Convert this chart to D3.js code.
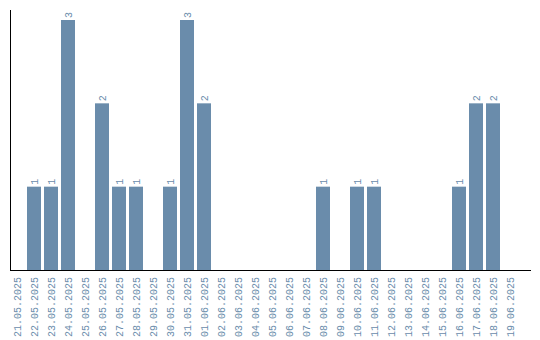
<!DOCTYPE html>
<html>
<head>
<meta charset="utf-8">
<script src="https://cdn.jsdelivr.net/npm/d3@7"></script>
<style>
  body { margin: 0; background: #fff; }
  text { font-family: "Liberation Mono", monospace; font-size: 10px; fill: #6a8cab; }
</style>
</head>
<body>
<svg id="chart" width="540" height="340"></svg>
<script>
// dates shown on the x axis
var days = ["21.05.2025","22.05.2025","23.05.2025","24.05.2025","25.05.2025","26.05.2025",
  "27.05.2025","28.05.2025","29.05.2025","30.05.2025","31.05.2025","01.06.2025",
  "02.06.2025","03.06.2025","04.06.2025","05.06.2025","06.06.2025","07.06.2025",
  "08.06.2025","09.06.2025","10.06.2025","11.06.2025","12.06.2025","13.06.2025",
  "14.06.2025","15.06.2025","16.06.2025","17.06.2025","18.06.2025","19.06.2025"];
// count per day
var counts = [0,1,1,3,0,2,1,1,0,1,3,2,0,0,0,0,0,0,1,0,1,1,0,0,0,0,1,2,2,0];

var data = days.map(function(d, i) { return {day: d, value: counts[i]}; });

var svg = d3.select("#chart");
var left = 10, baseline = 270;

var x = d3.scaleBand()
    .domain(days)
    .range([left, 517])
    .paddingInner(3 / 17)
    .paddingOuter(0);

var y = d3.scaleLinear()
    .domain([0, 3])
    .range([baseline, 20]);

// bars
svg.selectAll(".bar")
  .data(data.filter(function(d) { return d.value > 0; }))
  .enter().append("rect")
    .attr("class", "bar")
    .attr("x", function(d) { return x(d.day); })
    .attr("y", function(d) { return y(d.value); })
    .attr("width", x.bandwidth())
    .attr("height", function(d) { return baseline - y(d.value); })
    .attr("fill", "#6a8cab");

// value labels
svg.selectAll(".val")
  .data(data.filter(function(d) { return d.value > 0; }))
  .enter().append("text")
    .attr("class", "val")
    .attr("transform", function(d) {
      return "translate(" + (x(d.day) + x.bandwidth() / 2) + "," + (y(d.value) - 2) + ") rotate(-90)";
    })
    .attr("dy", "0.35em")
    .text(function(d) { return d.value; });

// x axis
var xAxis = svg.append("g")
    .attr("transform", "translate(0," + baseline + ")")
    .call(d3.axisBottom(x).tickSize(0).tickPadding(0));
xAxis.select(".domain").remove();
xAxis.selectAll("text")
    .attr("fill", null)
    .style("font-size", "10px")
    .style("font-family", "'Liberation Mono', monospace")
    .attr("text-anchor", "end")
    .attr("transform", "translate(0,7) rotate(-90)")
    .attr("x", 0)
    .attr("y", 0)
    .attr("dy", "0.35em");

svg.append("line")
    .attr("x1", left).attr("x2", 531)
    .attr("y1", baseline + 0.5).attr("y2", baseline + 0.5)
    .attr("stroke", "#000");

svg.append("line")
    .attr("x1", left + 0.5).attr("x2", left + 0.5)
    .attr("y1", 10).attr("y2", baseline)
    .attr("stroke", "#000");
</script>
</body>
</html>
